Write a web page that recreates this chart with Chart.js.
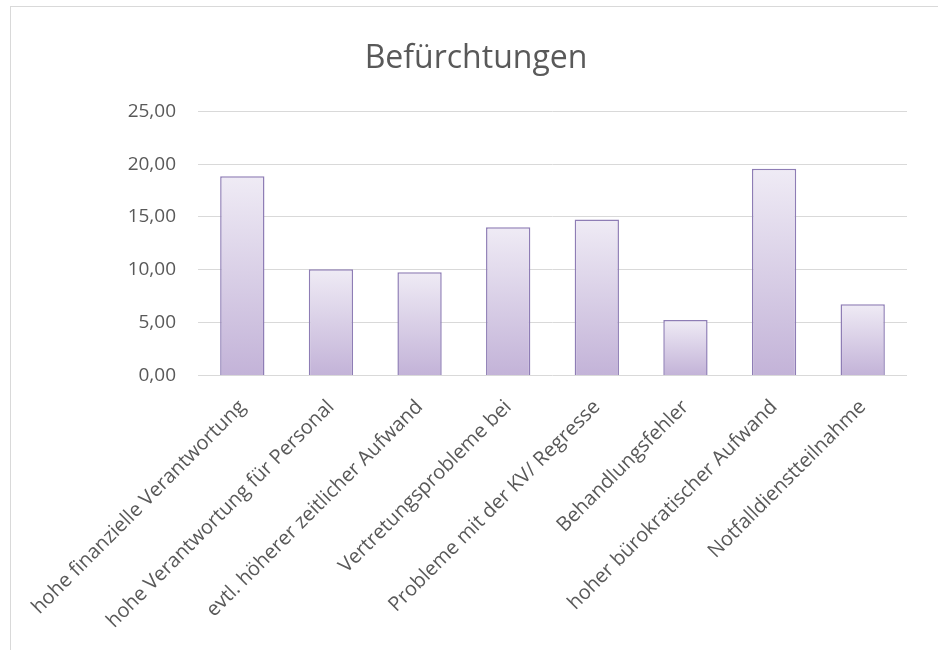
<!DOCTYPE html>
<html lang="de">
<head>
  <meta charset="UTF-8">
  <title>Befürchtungen</title>
  <script src="https://cdn.jsdelivr.net/npm/chart.js"></script>
  <style>
    html, body { margin: 0; padding: 0; background: #fff; }
    #frame {
      position: absolute; left: 10px; top: 6px; width: 940px; height: 660px;
      border-left: 1px solid #d9d9d9; border-top: 1px solid #d9d9d9;
    }
    #wrap { position: absolute; left: 0; top: 0; width: 938px; height: 650px; }
  </style>
</head>
<body>
  <div id="frame"></div>
  <div id="wrap"><canvas id="chart"></canvas></div>
  <script>
    // data
    const categories = [
      'hohe finanzielle Verantwortung',
      'hohe Verantwortung für Personal',
      'evtl. höherer zeitlicher Aufwand',
      'Vertretungsprobleme bei',
      'Probleme mit der KV/ Regresse',
      'Behandlungsfehler',
      'hoher bürokratischer Aufwand',
      'Notfalldienstteilnahme'
    ];
    const values = [18.85, 10.05, 9.77, 14.02, 14.77, 5.25, 19.56, 6.73];
    const yTickLabels = ['0,00', '5,00', '10,00', '15,00', '20,00', '25,00'];

    const textGrey = '#595959';

    // light-to-dark gradient per bar, like the Excel fill
    function barFill(context) {
      const chart = context.chart;
      if (!chart.chartArea || !context.parsed) return '#d6cce5';
      const y = chart.scales.y;
      const top = y.getPixelForValue(context.parsed.y);
      const bottom = y.getPixelForValue(0);
      const g = chart.ctx.createLinearGradient(0, top, 0, bottom);
      g.addColorStop(0, '#efebf5');
      g.addColorStop(1, '#c3b3d8');
      return g;
    }

    new Chart(document.getElementById('chart'), {
      type: 'bar',
      data: {
        labels: categories,
        datasets: [{
          data: values,
          backgroundColor: barFill,
          borderColor: '#8e7db5',
          borderWidth: 1.5,
          borderSkipped: 'bottom',
          categoryPercentage: 1,
          barPercentage: 0.5
        }]
      },
      options: {
        responsive: true,
        maintainAspectRatio: false,
        animation: false,
        layout: { padding: { left: 45, right: 31, top: 0, bottom: 5 } },
        plugins: {
          legend: { display: false },
          tooltip: { enabled: false },
          title: {
            display: true,
            text: 'Befürchtungen',
            color: textGrey,
            font: { family: 'Open Sans', size: 32, weight: 'normal' },
            padding: { top: 40, bottom: 33 }
          }
        },
        scales: {
          x: {
            grid: { display: false },
            border: { display: false },
            ticks: {
              color: textGrey,
              font: { family: 'Open Sans', size: 20 },
              maxRotation: 45,
              minRotation: 45,
              autoSkip: false,
              padding: 12
            }
          },
          y: {
            min: 0,
            max: 25,
            grid: { color: '#d9d9d9', lineWidth: 1, drawTicks: false },
            border: { display: false },
            afterFit: (scale) => { scale.width = 153; },
            ticks: {
              stepSize: 5,
              color: textGrey,
              font: { family: 'Open Sans', size: 19 },
              padding: 22,
              callback: (v, i) => yTickLabels[i]
            }
          }
        }
      }
    });
  </script>
</body>
</html>
